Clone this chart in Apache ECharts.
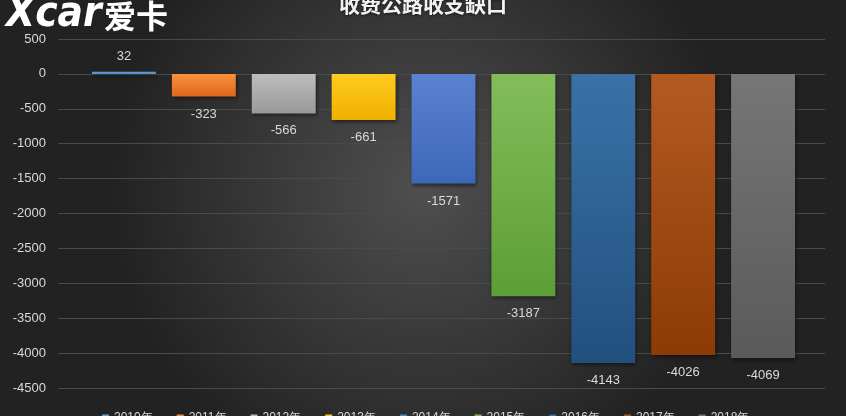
<!DOCTYPE html>
<html><head><meta charset="utf-8">
<script src="https://cdn.jsdelivr.net/npm/echarts@6/dist/echarts.min.js"></script>
<style>html,body{margin:0;padding:0;background:#2b2b2b}#c{width:846px;height:416px}</style>
</head><body><div id="c"></div>
<script>
const titleText = '收费公路收支缺口';
const categories = ['2010年','2011年','2012年','2013年','2014年','2015年','2016年','2017年','2018年'];
const values = [32, -323, -566, -661, -1571, -3187, -4143, -4026, -4069];
const yTicks = {min: -4500, max: 500, interval: 500};
const colorsTop = ['#6aa6dc','#f8913f','#bdbdbd','#ffcb1f','#5a82d0','#82bd59','#3a72a6','#b35a22','#767676'];
const colorsBottom = ['#4d87bf','#e0671a','#999999','#f0b000','#3d67b8','#5d9e36','#21507f','#8c3b05','#5a5a5a'];

const chart = echarts.init(document.getElementById('c'), null, {renderer:'canvas'});
const series = categories.map((name, i) => ({
  name: name,
  type: 'bar',
  stack: 'all',
  xAxisIndex: 1, yAxisIndex: 1,
  barCategoryGap: '20%',
  data: categories.map((c, j) => j === i ? values[i] : '-'),
  itemStyle: {
    color: new echarts.graphic.LinearGradient(0,0,0,1,[{offset:0,color:colorsTop[i]},{offset:1,color:colorsBottom[i]}]),
    shadowColor: 'rgba(0,0,0,0.5)', shadowBlur: 4, shadowOffsetX: 1, shadowOffsetY: 2
  },
  label: {
    show: true,
    position: values[i] >= 0 ? 'top' : 'bottom',
    distance: values[i] >= 0 ? 9 : 11,
    color: '#d9d9d9',
    fontSize: 13,
    fontFamily: 'Liberation Sans, Arial, sans-serif'
  }
}));

chart.setOption({
  animation: false,
  backgroundColor: new echarts.graphic.RadialGradient(0.5, 0.45, 0.75, [
    {offset: 0, color: '#4f4f4f'}, {offset: 1, color: '#222222'}
  ]),
  title: {
    text: titleText, left: 'center', top: -11,
    textStyle: {color: '#f2f2f2', fontSize: 21, fontWeight: 'bold', fontFamily: 'Noto Sans CJK SC',
      textShadowColor: 'rgba(0,0,0,0.6)', textShadowBlur: 3, textShadowOffsetY: 1}
  },
  legend: {
    top: 412, left: 102, itemWidth: 7, itemHeight: 7, itemGap: 24, padding: 0,
    icon: 'rect',
    textStyle: {color: '#d9d9d9', fontSize: 12},
    data: categories
  },
  grid: [
    {left: 58, right: 21, top: 39, bottom: 28},
    {left: 84, right: 43, top: 39, bottom: 28}
  ],
  xAxis: [
    {gridIndex: 0, type: 'value', show: false, min: 0, max: 1},
    {gridIndex: 1, type: 'category', data: categories, show: false}
  ],
  yAxis: [
    {gridIndex: 0, type: 'value', min: yTicks.min, max: yTicks.max, interval: yTicks.interval,
      axisLine: {show: false}, axisTick: {show: false},
      axisLabel: {color: '#d9d9d9', fontSize: 13, margin: 12, formatter: v => String(v),
        fontFamily: 'Liberation Sans, Arial, sans-serif'},
      splitLine: {lineStyle: {color: '#4a4a4a', width: 1}}},
    {gridIndex: 1, type: 'value', min: yTicks.min, max: yTicks.max, interval: yTicks.interval, show: false,
      splitLine: {show: false}}
  ],
  graphic: [
    {type: 'text', left: 6, top: -6, z: 100, style: {text: 'Xcar', fill: '#ffffff', font: 'italic 900 42px "DejaVu Sans Condensed"'}},
    {type: 'text', left: 104, top: 0, z: 100, style: {text: '爱卡', fill: '#ffffff', font: 'bold 32px "Noto Sans CJK SC"'}}
  ],
  series: series
});
</script></body></html>
